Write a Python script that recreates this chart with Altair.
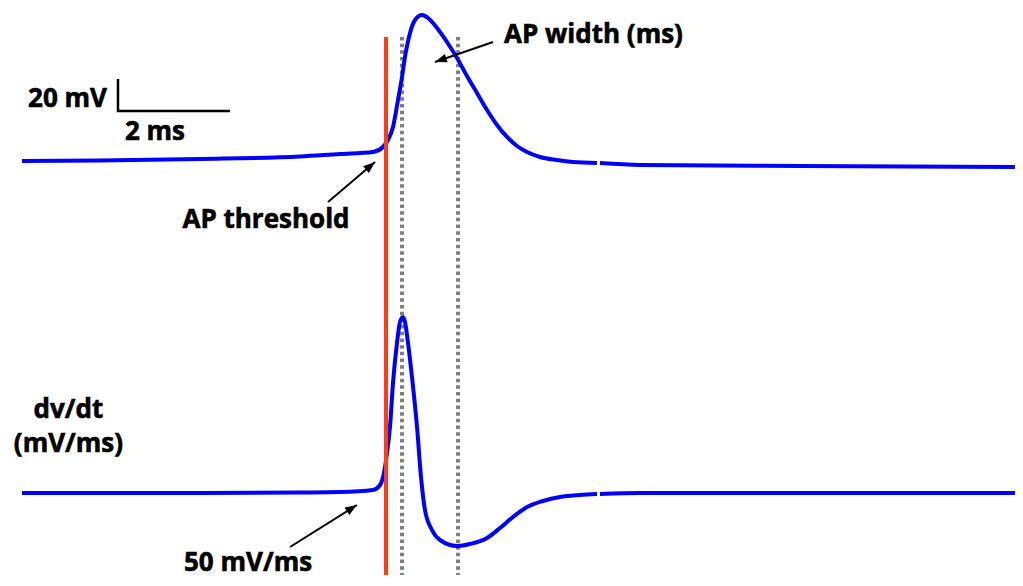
import altair as alt
import pandas as pd

# ---- Membrane voltage trace (time in ms, voltage in mV); seg marks the tiny gap in the recording ----
v_time_ms = [0.0, 1.393, 3.179, 4.964, 5.679, 6.036, 6.268, 6.446, 6.536, 6.625,
             6.714, 6.786, 6.839, 6.929, 7.018, 7.143, 7.250, 7.411, 7.589, 7.768,
             7.946, 8.125, 8.304, 8.482, 8.661, 8.839, 9.018, 9.25, 9.554, 9.839,
             10.268, 10.321, 11.036, 13.893, 17.875]
v_mV = [-65.6, -65.3, -64.4, -62.8, -61.3, -60.6, -60.0, -56.9, -52.5, -44.4,
        -27.5, -13.1, -0.6, 14.4, 22.5, 25.6, 23.75, 17.5, 8.75, -1.25,
        -12.5, -23.1, -33.75, -43.1, -50.6, -56.25, -60.0, -63.1, -65.0, -66.25,
        -66.9, -66.9, -68.1, -68.75, -69.4]
v_seg = [0] * 31 + [1] * 4

# ---- dV/dt trace (time in ms, mV/ms) ----
d_time_ms = [0.0, 3.179, 4.964, 5.679, 6.268, 6.393, 6.464, 6.518, 6.571, 6.625,
             6.696, 6.75, 6.804, 6.839, 6.893, 6.964, 7.054, 7.125, 7.196, 7.321,
             7.464, 7.768, 8.0, 8.304, 8.536, 8.768, 9.018, 9.304, 9.607, 9.964,
             10.268, 10.321, 11.036, 17.875]
d_mVms = [0, 0, 0.75, 1.5, 4.5, 12, 30, 60, 99, 165,
          225, 256.5, 264, 256.5, 225, 174, 99, 24, -25.5, -55.5,
          -70.5, -79.5, -76.5, -67.5, -52.5, -36, -21, -12, -6, -3,
          -1.5, -1.5, 0, 0]
d_seg = [0] * 31 + [1] * 3

# ---- markers ----
threshold_ms = [6.5]
width_ms = [6.786, 7.786]
marker_span_mV = [11.9, -324.4]

# ---- scale bar ----
bar_t = [1.714, 1.714, 3.714]
bar_v = [-14.4, -34.4, -34.4]

# ---- labels ----
top_labels = ["20 mV", "2 ms", "AP threshold", "AP width (ms)"]
top_label_t = [0.8125, 2.375, 4.357, 10.205]
top_label_v = [-31.9, -52.5, -107.5, 8.1]
bottom_labels = ["dv/dt", "(mV/ms)", "50 mV/ms"]
bottom_label_t = [0.830, 0.830, 4.036]
bottom_label_d = [112.5, 61.5, -117]

# ---- arrows (tail -> tip) ----
top_arrow_id = ["thr", "thr", "wid", "wid"]
top_arrow_t = [5.464, 6.304, 8.411, 7.375]
top_arrow_v = [-91.25, -66.25, 8.75, -3.75]
top_head_t = [6.304, 7.375]
top_head_v = [-66.25, -3.75]
top_head_angle = [49.6, 251.0]
bot_arrow_t = [4.786, 5.982]
bot_arrow_d = [-81, -18]
bot_head_t = [5.982]
bot_head_d = [-18]
bot_head_angle = [57.9]

XDOM = [-0.25, 17.732]
VDOM = [-326.25, 30]
DDOM = [-127.5, 727.5]

xs = alt.Scale(domain=XDOM, nice=False, zero=False)
vs = alt.Scale(domain=VDOM, nice=False, zero=False)
ds = alt.Scale(domain=DDOM, nice=False, zero=False)

BLUE = "#0000FF"
RED = "#FF3D14"
GRAY = "#7F7F7F"
FONT = "Open Sans"
HEAD = "M0,0 L-0.6,1.6 L0.6,1.6 Z"

v_df = pd.DataFrame({"t": v_time_ms, "v": v_mV, "seg": v_seg})
d_df = pd.DataFrame({"t": d_time_ms, "d": d_mVms, "seg": d_seg})

width_df = pd.DataFrame({"t": width_ms, "v1": [marker_span_mV[0]] * 2, "v2": [marker_span_mV[1]] * 2})
thr_df = pd.DataFrame({"t": threshold_ms, "v1": [marker_span_mV[0]], "v2": [marker_span_mV[1]]})

dotted = alt.Chart(width_df).mark_rule(color=GRAY, strokeWidth=4, strokeDash=[3.5, 3.2]).encode(
    x=alt.X("t:Q", scale=xs, axis=None),
    y=alt.Y("v1:Q", scale=vs, axis=None),
    y2="v2:Q",
)

v_line = alt.Chart(v_df).mark_line(color=BLUE, strokeWidth=4, interpolate="monotone").encode(
    x=alt.X("t:Q", scale=xs, axis=None),
    y=alt.Y("v:Q", scale=vs, axis=None),
    detail="seg:N",
)

d_line = alt.Chart(d_df).mark_line(color=BLUE, strokeWidth=4, interpolate="monotone").encode(
    x=alt.X("t:Q", scale=xs, axis=None),
    y=alt.Y("d:Q", scale=ds, axis=None),
    detail="seg:N",
)

red = alt.Chart(thr_df).mark_rule(color=RED, strokeWidth=4).encode(
    x=alt.X("t:Q", scale=xs, axis=None),
    y=alt.Y("v1:Q", scale=vs, axis=None),
    y2="v2:Q",
)

bar_df = pd.DataFrame({"t": bar_t, "v": bar_v, "o": [0, 1, 2]})
bar = alt.Chart(bar_df).mark_line(color="black", strokeWidth=2.5).encode(
    x=alt.X("t:Q", scale=xs, axis=None),
    y=alt.Y("v:Q", scale=vs, axis=None),
    order="o:Q",
)

ta_df = pd.DataFrame({"id": top_arrow_id, "t": top_arrow_t, "v": top_arrow_v})
top_arrows = alt.Chart(ta_df).mark_line(color="black", strokeWidth=2).encode(
    x=alt.X("t:Q", scale=xs, axis=None),
    y=alt.Y("v:Q", scale=vs, axis=None),
    detail="id:N",
)
th_df = pd.DataFrame({"t": top_head_t, "v": top_head_v, "a": top_head_angle})
top_heads = alt.Chart(th_df).mark_point(shape=HEAD, filled=True, size=220, color="black", opacity=1, strokeWidth=0).encode(
    x=alt.X("t:Q", scale=xs, axis=None),
    y=alt.Y("v:Q", scale=vs, axis=None),
    angle=alt.Angle("a:Q", scale=None),
)

ba_df = pd.DataFrame({"t": bot_arrow_t, "d": bot_arrow_d})
bot_arrow = alt.Chart(ba_df).mark_line(color="black", strokeWidth=2).encode(
    x=alt.X("t:Q", scale=xs, axis=None),
    y=alt.Y("d:Q", scale=ds, axis=None),
)
bh_df = pd.DataFrame({"t": bot_head_t, "d": bot_head_d, "a": bot_head_angle})
bot_head = alt.Chart(bh_df).mark_point(shape=HEAD, filled=True, size=220, color="black", opacity=1, strokeWidth=0).encode(
    x=alt.X("t:Q", scale=xs, axis=None),
    y=alt.Y("d:Q", scale=ds, axis=None),
    angle=alt.Angle("a:Q", scale=None),
)

text_style = dict(font=FONT, fontWeight="bold", fontSize=26, baseline="alphabetic",
                  align="center", color="black", stroke="black", strokeWidth=0.6)

tl_df = pd.DataFrame({"label": top_labels, "t": top_label_t, "v": top_label_v})
top_text = alt.Chart(tl_df).mark_text(**text_style).encode(
    x=alt.X("t:Q", scale=xs, axis=None),
    y=alt.Y("v:Q", scale=vs, axis=None),
    text="label:N",
)
bl_df = pd.DataFrame({"label": bottom_labels, "t": bottom_label_t, "d": bottom_label_d})
bot_text = alt.Chart(bl_df).mark_text(**text_style).encode(
    x=alt.X("t:Q", scale=xs, axis=None),
    y=alt.Y("d:Q", scale=ds, axis=None),
    text="label:N",
)

chart = alt.layer(
    dotted, v_line, d_line, red, bar, top_arrows, top_heads, bot_arrow, bot_head, top_text, bot_text
).resolve_scale(y="independent").properties(
    width=1007, height=570, padding=0, autosize=alt.AutoSizeParams(type="none")
).configure_view(stroke=None)

chart.save("out.html", embed_options={"renderer": "svg", "actions": False})
